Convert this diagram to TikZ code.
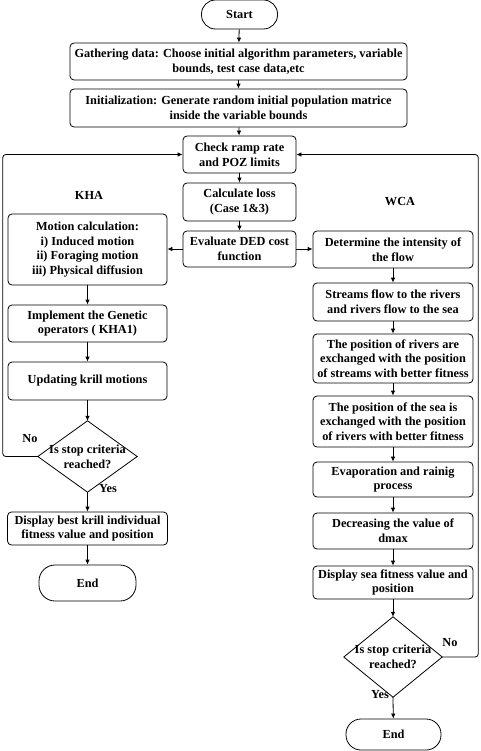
\documentclass[tikz,border=0pt]{standalone}
\usepackage{fontspec}
\setmainfont{Liberation Serif}
\usetikzlibrary{arrows.meta}
\begin{document}
\begin{tikzpicture}[x=1pt,y=-1pt,
  every node/.style={font=\fontsize{12.3}{14.7}\selectfont\bfseries, inner sep=0pt},
  box/.style={draw, line width=0.8pt, rounded corners=4pt, align=center},
  term/.style={draw, line width=0.8pt, rounded corners=14pt, align=center},
  dtext/.style={align=center},
  arr/.style={line width=0.8pt, -{Latex[length=5pt,width=4.5pt]}},
  lbl/.style={font=\fontsize{12.3}{14}\selectfont\bfseries}]
\useasboundingbox (0,0) rectangle (480,751);
% central column
\node[term, minimum width=76pt, minimum height=29pt] (start) at (239.5,14.5) {Start};
\node[box, minimum width=337pt, minimum height=37pt] (gather) at (238.5,61.5) {Gathering data: Choose initial algorithm parameters, variable\\bounds, test case data,etc};
\node[box, minimum width=337pt, minimum height=38pt] (init) at (238.5,108) {Initialization: Generate random initial population matrice\\inside the variable bounds};
\node[box, minimum width=113pt, minimum height=37pt] (check) at (239.5,154.5) {Check ramp rate\\and POZ limits};
\node[box, minimum width=113pt, minimum height=38pt] (loss) at (239.5,202) {Calculate loss\\(Case 1\&3)};
\node[box, minimum width=113pt, minimum height=36pt] (eval) at (239.5,249) {Evaluate DED cost\\function};
% KHA column
\node[lbl] (kha) at (89,195) {KHA};
\node[box, minimum width=159pt, minimum height=71pt] (motion) at (87.5,249.5) {Motion calculation:\\i) Induced motion\\ii) Foraging motion\\iii) Physical diffusion};
\node[box, minimum width=159pt, minimum height=37pt] (impl) at (87.5,323.5) {Implement the Genetic\\operators ( KHA1)};
\node[box, minimum width=159pt, minimum height=38pt] (upd) at (87.5,381) {Updating krill motions};
\node[dtext, minimum width=99pt, minimum height=71pt] (dl) at (87.5,456.5) {Is stop criteria\\reached?};
\draw[line width=0.8pt] (dl.north) -- (dl.east) -- (dl.south) -- (dl.west) -- cycle;
\node[box, minimum width=160pt, minimum height=33pt] (dispk) at (87.5,528.5) {Display best krill individual\\fitness value and position};
\node[term, minimum width=97pt, minimum height=36pt, rounded corners=16pt] (endl) at (87.5,583) {End};
% WCA column
\node[lbl] (wca) at (400,202) {WCA};
\node[box, minimum width=160pt, minimum height=37pt] (det) at (393,249.5) {Determine the intensity of\\the flow};
\node[box, minimum width=160pt, minimum height=38pt] (streams) at (393,302) {Streams flow to the rivers\\and rivers flow to the sea};
\node[box, minimum width=160pt, minimum height=49pt] (rivers) at (393,358.5) {The position of rivers are\\exchanged with the position\\of streams with better fitness};
\node[box, minimum width=160pt, minimum height=51pt] (sea) at (393,421.5) {The position of the sea is\\exchanged with the position\\of rivers with better fitness};
\node[box, minimum width=160pt, minimum height=35pt] (evap) at (393,479.5) {Evaporation and rainig\\process};
\node[box, minimum width=160pt, minimum height=36pt] (decr) at (393,531) {Decreasing the value of\\dmax};
\node[box, minimum width=160pt, minimum height=33pt] (disps) at (393,582.5) {Display sea fitness value and\\position};
\node[dtext, minimum width=98pt, minimum height=80pt] (dr) at (393,657) {Is stop criteria\\reached?};
\draw[line width=0.8pt] (dr.north) -- (dr.east) -- (dr.south) -- (dr.west) -- cycle;
\node[term, minimum width=95pt, minimum height=31pt, rounded corners=15pt] (endr) at (393.5,734.5) {End};
% labels
\node[lbl] (nol) at (30,439) {No};
\node[lbl] (yesl) at (108,489) {Yes};
\node[lbl] (nor) at (450,643) {No};
\node[lbl] (yesr) at (380,695) {Yes};
% connectors
\draw[arr] (start) -- (gather);
\draw[arr] (gather) -- (init);
\draw[arr] (init) -- (check);
\draw[arr] (check) -- (loss);
\draw[arr] (loss) -- (eval);
\draw[arr] (eval.west) -- (motion.east |- eval.west);
\draw[arr] (eval.east) -- (det.west |- eval.east);
\draw[arr] (motion) -- (impl);
\draw[arr] (impl) -- (upd);
\draw[arr] (upd) -- (dl.north);
\draw[arr] (dl.south) -- (dispk);
\draw[arr] (dispk) -- (endl);
\draw[arr] (det) -- (streams);
\draw[arr] (streams) -- (rivers);
\draw[arr] (rivers) -- (sea);
\draw[arr] (sea) -- (evap);
\draw[arr] (evap) -- (decr);
\draw[arr] (decr) -- (disps);
\draw[arr] (disps) -- (dr.north);
\draw[arr] (dr.south) -- (endr);
\draw[arr, rounded corners=3pt] (dl.west) -- ++(-35,0) |- (check.west);
\draw[arr, rounded corners=3pt] (dr.east) -- ++(36,0) |- (check.east);
\end{tikzpicture}
\end{document}
